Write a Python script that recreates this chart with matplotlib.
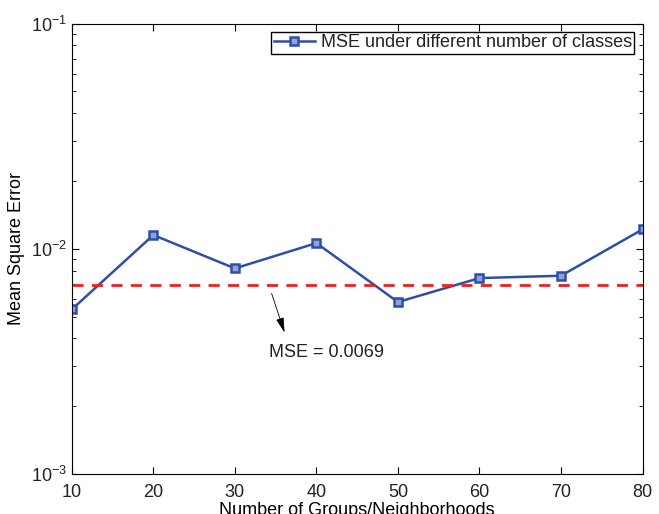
"""
Plot MSE against number of groups/neighborhoods on a log scale.
"""

import numpy as np
import matplotlib
matplotlib.use("Agg")
import matplotlib.pyplot as plt
from matplotlib.ticker import LogLocator, NullFormatter

plt.rcParams["font.family"] = ["Liberation Sans", "DejaVu Sans"]
plt.rcParams["text.color"] = "#222222"

n_groups = [10, 20, 30, 40, 50, 60, 70, 80]
mse = [0.00538, 0.01151, 0.00818, 0.01060, 0.00580, 0.00741, 0.00759, 0.01219]
mse_ref = 0.0069

fig = plt.figure(figsize=(6.59, 5.14), dpi=100)
ax = fig.add_axes([0.109, 0.078, 0.866, 0.876])

ax.plot(n_groups, mse, "-s", color="#2f4fa6", lw=1.8, ms=6, mew=1.8,
        mfc="#8fa3d8", mec="#2f4fa6",
        label="MSE under different number of classes")
ax.axhline(mse_ref, color="#f01e23", lw=2, ls=(0, (4, 3)))

# arrow pointing from the mean line to its label
ax.annotate("", xy=(36.2, 0.00413), xytext=(34.4, 0.0065),
            arrowprops=dict(arrowstyle="-|>,head_width=0.17,head_length=0.65",
                            color="black", lw=0.6, mutation_scale=14))
ax.text(34.2, 0.00347, "MSE = 0.0069", fontsize=13, va="center", ha="left")

ax.set_yscale("log")
ax.set_xlim(10, 80)
ax.set_ylim(1e-3, 1e-1)
ax.set_xticks(n_groups)
ax.yaxis.set_major_locator(LogLocator(base=10))
ax.yaxis.set_minor_locator(LogLocator(base=10, subs=np.arange(2, 10)))
ax.yaxis.set_minor_formatter(NullFormatter())
ax.tick_params(which="both", direction="in", top=True, right=True,
               labelsize=13, labelcolor="#222222")
ax.tick_params(axis="x", pad=7)
ax.tick_params(which="major", length=5)
ax.tick_params(which="minor", length=3)

ax.set_xlabel("Number of Groups/Neighborhoods", fontsize=13, labelpad=1)
ax.set_ylabel("Mean Square Error", fontsize=13, labelpad=4)

ax.legend(loc="upper right", fontsize=13, frameon=True, fancybox=False,
          edgecolor="black", framealpha=1, borderpad=0.15,
          handlelength=2.3, handletextpad=0.3, borderaxespad=0.45)

plt.savefig("out.png", dpi=100)
